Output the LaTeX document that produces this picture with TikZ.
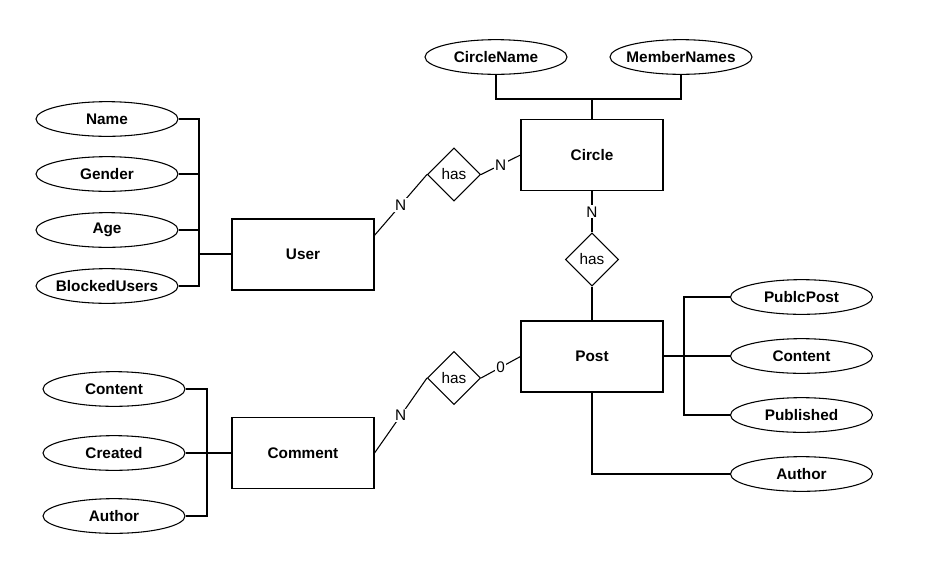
\documentclass[tikz,border=0pt]{standalone}
\usepackage{fontspec}
\setmainfont{Liberation Sans}
\usetikzlibrary{shapes.geometric}

\tikzset{
  entity/.style={draw, rectangle, minimum width=106.5pt, minimum height=53.25pt, font=\fontsize{11.5}{13}\selectfont\bfseries},
  attr/.style={draw, ellipse, minimum width=106.5pt, minimum height=26pt, inner xsep=-15pt, inner ysep=0pt, font=\fontsize{11.5}{13}\selectfont\bfseries},
  rel/.style={draw, diamond, minimum size=39.75pt, inner sep=0pt},
  card/.style={fill=white, inner sep=1pt}
}

\begin{document}
\begin{tikzpicture}[x=0.75pt, y=-0.75pt, line width=0.8pt, every node/.style={font=\fontsize{11.5}{13}\selectfont}]
        \useasboundingbox (0,0) rectangle (946,583);

        % Entities
        \node[entity] (user) at (303, 254.5) {User};
        \node[entity] (circle) at (592, 155) {Circle};
        \node[entity] (post) at (592, 356.5) {Post};
        \node[entity] (comment) at (303, 453) {Comment};

        % Relationships
        \node[rel] (has1) at (454, 174.5) {has};
        \node[rel] (has3) at (592, 259.5) {has};
        \node[rel] (has2) at (454, 378) {has};
        \draw (user.15) -- node[card] {N} (has1.west);
        \draw (has1.east) -- node[card] {N} (circle.west);
        \draw (circle.south) -- node[card] {N} (has3.north);
        \draw (has3.south) -- (post.north);
        \draw (comment.east) -- node[card] {N} (has2.west);
        \draw (has2.east) -- node[card] {0} (post.west);

        % User attributes
        \node[attr] (name) at (107, 119) {Name};
        \node[attr] (gender) at (107, 174) {Gender};
        \node[attr] (age) at (107, 230) {Age};
        \node[attr] (blocked) at (107, 286) {BlockedUsers};
        \coordinate (ujoin) at (199, 254);
        \draw (name.east) -| (ujoin);
        \draw (gender.east) -| (ujoin);
        \draw (age.east) -| (ujoin);
        \draw (blocked.east) -| (ujoin);
        \draw (ujoin) -- (ujoin -| user.west);

        % Circle attributes
        \node[attr] (cname) at (496, 57) {CircleName};
        \node[attr] (mnames) at (681, 57) {MemberNames};
        \coordinate (cjoin) at (592, 99);
        \draw (cname.south) |- (cjoin);
        \draw (mnames.south) |- (cjoin);
        \draw (cjoin) -- (circle.north);

        % Post attributes
        \node[attr] (publc) at (801.5, 297) {PublcPost};
        \node[attr] (pcontent) at (801.5, 356) {Content};
        \node[attr] (published) at (801.5, 415) {Published};
        \node[attr] (pauthor) at (801.5, 474) {Author};
        \coordinate (pjoin) at (684, 356);
        \draw (publc.west) -| (pjoin);
        \draw (published.west) -| (pjoin);
        \draw (pcontent.west) -- (pcontent.west -| post.east);
        \draw (post.south) |- (pauthor.west);

        % Comment attributes
        \node[attr] (ccontent) at (114, 389) {Content};
        \node[attr] (created) at (114, 453) {Created};
        \node[attr] (cauthor) at (114, 516) {Author};
        \coordinate (cmjoin) at (207, 453);
        \draw (ccontent.east) -| (cmjoin);
        \draw (cauthor.east) -| (cmjoin);
        \draw (created.east) -- (comment.west);
    \end{tikzpicture}
\end{document}
